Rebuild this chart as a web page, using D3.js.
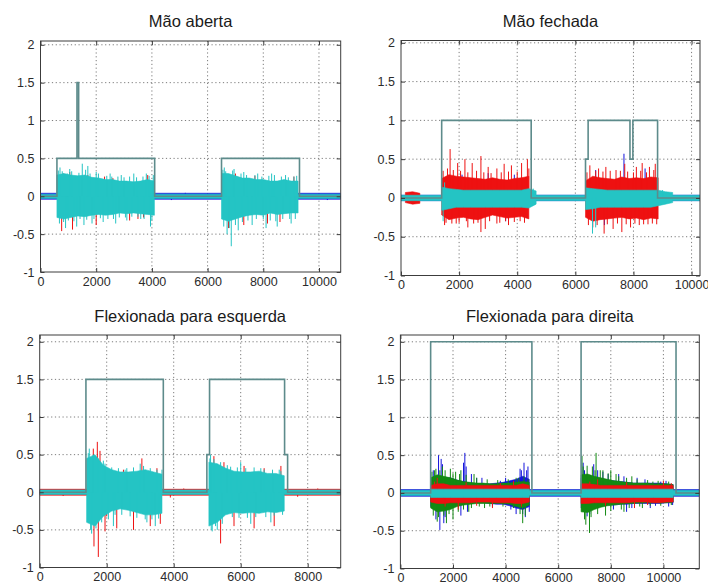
<!DOCTYPE html>
<html lang="pt">
<head>
<meta charset="UTF-8">
<title>Sinais EMG</title>
<script src="https://cdnjs.cloudflare.com/ajax/libs/d3/7.8.5/d3.min.js"></script>
<style>
  body { margin: 0; background: #fff; }
  svg { display: block; font-family: "Liberation Sans", Arial, sans-serif; }
</style>
</head>
<body>
<svg id="chart" width="708" height="586"></svg>
<script>
// ---------- values ----------
const titles = ["Mão aberta", "Mão fechada", "Flexionada para esquerda", "Flexionada para direita"];
const xMax = [10780, 10290, 8985, 11365];
const xTicks = [
  [0, 2000, 4000, 6000, 8000, 10000],
  [0, 2000, 4000, 6000, 8000, 10000],
  [0, 2000, 4000, 6000, 8000],
  [0, 2000, 4000, 6000, 8000, 10000]
];
const yTicks = [-1, -0.5, 0, 0.5, 1, 1.5, 2];
const yTop = [2.05, 2.03, 2.09, 2.09];
const STEP = 250; // sample spacing of the envelope readings

// trigger (step) line
const abertaStepX = [0, 590, 590, 1310, 1310, 1370, 1370, 4100, 4100, 6500, 6500, 9300, 9300, 10780];
const abertaStepY = [0, 0, 0.5, 0.5, 1.5, 1.5, 0.5, 0.5, 0, 0, 0.5, 0.5, 0, 0];
const fechadaStepX = [0, 1400, 1400, 4480, 4480, 6350, 6350, 6440, 6440, 7880, 7880, 7980, 7980, 8830, 8830, 10290];
const fechadaStepY = [0, 0, 1, 1, 0, 0, 0.5, 0.5, 1, 1, 0.5, 0.5, 1, 1, 0, 0];
const esquerdaStepX = [0, 1380, 1380, 3690, 3690, 4990, 4990, 5070, 5070, 7310, 7310, 7400, 7400, 8985];
const esquerdaStepY = [0, 0, 1.5, 1.5, 0, 0, 0.5, 0.5, 1.5, 1.5, 0.5, 0.5, 0, 0];
const direitaStepX = [0, 1150, 1150, 5000, 5000, 6870, 6870, 10480, 10480, 11365];
const direitaStepY = [0, 0, 2, 2, 0, 0, 2, 2, 0, 0];

// resting noise half-width per channel: blue, green, red, cyan
const abertaBase = [0.04, 0, 0, 0.028];
const fechadaBase = [0.035, 0, 0, 0.035];
const esquerdaBase = [0.03, 0, 0.04, 0.03];
const direitaBase = [0.045, 0, 0, 0.035];

// bursts: [start sample, upper envelope, lower envelope]
const abertaCyan = [
  [590, [0.28, 0.3, 0.28, 0.27, 0.28, 0.25, 0.24, 0.22, 0.22, 0.2, 0.2, 0.19, 0.2, 0.22, 0.2],
        [-0.28, -0.3, -0.28, -0.26, -0.27, -0.25, -0.24, -0.25, -0.24, -0.22, -0.23, -0.22, -0.23, -0.24, -0.25]],
  [6500, [0.3, 0.3, 0.27, 0.24, 0.24, 0.22, 0.22, 0.2, 0.2, 0.22, 0.2, 0.2],
         [-0.3, -0.33, -0.3, -0.27, -0.25, -0.24, -0.25, -0.22, -0.24, -0.23, -0.22, -0.22]]
];
const fechadaRed = [
  [150, [0.07, 0.08, 0.06], [-0.06, -0.08, -0.07]],
  [1400, [0.25, 0.3, 0.28, 0.27, 0.26, 0.25, 0.24, 0.26, 0.24, 0.23, 0.25, 0.26, 0.28],
         [-0.22, -0.28, -0.26, -0.25, -0.27, -0.28, -0.25, -0.22, -0.24, -0.26, -0.25, -0.24, -0.27]],
  [6350, [0.22, 0.28, 0.26, 0.25, 0.24, 0.27, 0.25, 0.26, 0.25, 0.27, 0.26],
         [-0.25, -0.3, -0.28, -0.27, -0.26, -0.25, -0.27, -0.26, -0.28, -0.26, -0.27]]
];
const fechadaCyan = [
  [1400, [0.14, 0.12, 0.11, 0.1, 0.1, 0.1, 0.1, 0.1, 0.1, 0.1, 0.1, 0.1, 0.12, 0.09],
         [-0.16, -0.14, -0.12, -0.12, -0.12, -0.12, -0.12, -0.12, -0.12, -0.12, -0.12, -0.12, -0.13, -0.08]],
  [6350, [0.13, 0.12, 0.11, 0.1, 0.1, 0.1, 0.1, 0.1, 0.1, 0.1, 0.1, 0.08, 0.07],
         [-0.15, -0.14, -0.12, -0.12, -0.12, -0.12, -0.12, -0.12, -0.12, -0.12, -0.1, -0.08, -0.06]]
];
const esquerdaCyan = [
  [1400, [0.45, 0.5, 0.36, 0.3, 0.27, 0.27, 0.28, 0.3, 0.27, 0.24],
         [-0.4, -0.45, -0.32, -0.25, -0.22, -0.24, -0.27, -0.3, -0.3, -0.28]],
  [5050, [0.4, 0.38, 0.32, 0.28, 0.27, 0.27, 0.28, 0.25, 0.25, 0.22],
         [-0.45, -0.4, -0.3, -0.27, -0.28, -0.27, -0.28, -0.26, -0.27, -0.25]]
];
const direitaBlue = [
  [1150, [0.18, 0.22, 0.2, 0.2, 0.17, 0.15, 0.13, 0.12, 0.12, 0.12, 0.13, 0.14, 0.16, 0.18, 0.22, 0.18],
         [-0.18, -0.24, -0.22, -0.2, -0.17, -0.15, -0.14, -0.13, -0.13, -0.14, -0.15, -0.15, -0.17, -0.2, -0.22, -0.18]],
  [6870, [0.2, 0.22, 0.2, 0.19, 0.17, 0.16, 0.15, 0.14, 0.13, 0.13, 0.13, 0.13, 0.13, 0.12, 0.11],
         [-0.2, -0.22, -0.2, -0.18, -0.16, -0.16, -0.15, -0.15, -0.14, -0.14, -0.14, -0.14, -0.14, -0.13, -0.13]]
];
const direitaGreen = [
  [1150, [0.2, 0.24, 0.22, 0.2, 0.17, 0.15, 0.14, 0.13, 0.13, 0.12, 0.12, 0.13, 0.13, 0.14, 0.15, 0.14],
         [-0.2, -0.25, -0.24, -0.22, -0.18, -0.16, -0.15, -0.14, -0.14, -0.14, -0.14, -0.14, -0.15, -0.18, -0.2, -0.16]],
  [6870, [0.24, 0.25, 0.22, 0.2, 0.18, 0.16, 0.15, 0.14, 0.13, 0.13, 0.13, 0.12, 0.12, 0.12, 0.11],
         [-0.25, -0.26, -0.22, -0.19, -0.17, -0.16, -0.15, -0.14, -0.14, -0.13, -0.13, -0.13, -0.13, -0.13, -0.12]]
];
const direitaRed = [
  [1150, [0.1, 0.12, 0.12, 0.1, 0.1, 0.1, 0.1, 0.1, 0.1, 0.1, 0.1, 0.1, 0.1, 0.1, 0.12, 0.1],
         [-0.12, -0.14, -0.14, -0.13, -0.13, -0.13, -0.13, -0.12, -0.12, -0.12, -0.13, -0.13, -0.13, -0.14, -0.14, -0.12]],
  [6870, [0.12, 0.12, 0.11, 0.1, 0.1, 0.1, 0.1, 0.1, 0.1, 0.1, 0.1, 0.1, 0.1, 0.1, 0.1],
         [-0.14, -0.14, -0.13, -0.13, -0.13, -0.13, -0.13, -0.13, -0.12, -0.12, -0.12, -0.13, -0.13, -0.12, -0.12]]
];
const direitaCyan = [
  [1150, [0.05, 0.05, 0.05, 0.05, 0.05, 0.05, 0.05, 0.05, 0.05, 0.05, 0.05, 0.05, 0.05, 0.05, 0.05, 0.05],
         [-0.06, -0.06, -0.06, -0.06, -0.06, -0.06, -0.06, -0.06, -0.06, -0.06, -0.06, -0.06, -0.06, -0.06, -0.06, -0.06]],
  [6870, [0.05, 0.05, 0.05, 0.05, 0.05, 0.05, 0.05, 0.05, 0.05, 0.05, 0.05, 0.05, 0.05, 0.05, 0.05],
         [-0.06, -0.06, -0.06, -0.06, -0.06, -0.06, -0.06, -0.06, -0.06, -0.06, -0.06, -0.06, -0.06, -0.06, -0.06]]
];

// single peaks that stick out of the bands: [sample, value]
const abertaBlueSpikes = [[4700, -0.05], [5200, 0.045], [8600, -0.06], [10300, -0.05]];
const abertaRedSpikes = [[760, -0.46], [820, 0.3], [1050, 0.32], [1150, -0.44], [1700, 0.28], [2000, -0.38], [2300, 0.26],
  [2600, 0.24], [3200, -0.32], [3500, -0.3], [3700, -0.28], [3850, 0.28], [6750, -0.42], [7000, 0.3], [7300, -0.38],
  [7700, 0.27], [8150, -0.36], [8600, -0.34], [9100, 0.26]];
const abertaCyanSpikes = [[700, 0.38], [900, -0.42], [1050, 0.36], [1300, -0.4], [1500, 0.43], [1560, -0.38], [1700, 0.4],
  [1850, -0.36], [2000, 0.32], [2250, -0.34], [2500, 0.3], [2700, -0.36], [2900, 0.28], [3100, -0.32], [3350, 0.3],
  [3600, -0.3], [3800, 0.3], [3950, -0.4], [4050, 0.28], [6600, 0.38], [6700, -0.5], [6850, -0.66], [6950, 0.36],
  [7100, -0.45], [7300, 0.32], [7600, -0.38], [7800, 0.3], [8100, -0.42], [8300, 0.3], [8500, -0.4], [8800, 0.28],
  [9000, -0.36], [9200, 0.27],
  [640, 0.34], [680, -0.36], [780, 0.33], [830, -0.34], [960, 0.3], [1000, -0.32], [1120, 0.33], [1200, -0.33],
  [1380, 0.31], [1420, -0.3], [1620, 0.35], [1660, -0.31], [1780, 0.3], [1920, -0.3], [2080, 0.3], [2150, -0.29],
  [2380, 0.27], [2420, -0.3], [2560, 0.26], [2620, -0.3], [2780, 0.26], [2830, -0.28], [3000, 0.25], [3050, -0.28],
  [3200, 0.26], [3280, -0.27], [3450, 0.25], [3500, -0.27], [3680, 0.26], [3720, -0.3], [3900, 0.27], [4000, -0.32],
  [6550, 0.35], [6580, -0.4], [6650, 0.33], [6780, -0.42], [6900, 0.34], [7000, -0.38], [7200, 0.3], [7250, -0.34],
  [7400, 0.28], [7450, -0.32], [7700, 0.28], [7750, -0.3], [7950, 0.26], [8000, -0.3], [8200, 0.27], [8250, -0.32],
  [8400, 0.28], [8450, -0.33], [8650, 0.26], [8700, -0.3], [8900, 0.25], [8950, -0.3], [9100, 0.26], [9150, -0.3]];
const fechadaBlueSpikes = [[2100, 0.3], [3000, 0.32], [3600, -0.3], [3900, 0.3], [6700, 0.36], [7000, -0.35], [7673, 0.57], [8400, 0.38]];
const fechadaRedSpikes = [[1500, -0.35], [1690, 0.63], [1900, -0.33], [1950, 0.45], [2200, 0.5], [2300, -0.38], [2450, 0.45],
  [2750, 0.54], [2750, -0.44], [2900, -0.4], [3000, 0.4], [3300, 0.38], [3300, -0.33], [3550, 0.44], [3700, -0.35],
  [3800, 0.42], [4100, -0.3], [4150, 0.45], [4350, 0.5], [6500, 0.42], [6600, -0.38], [6800, 0.38], [6990, -0.46],
  [7050, 0.4], [7300, -0.4], [7400, 0.36], [7600, -0.44], [7700, 0.44], [7900, -0.38], [8100, 0.4], [8200, -0.35],
  [8300, 0.45], [8500, -0.34], [8550, 0.4], [8750, 0.44], [8800, -0.34],
  [1450, 0.35], [1550, -0.32], [1600, 0.38], [1750, -0.33], [1800, 0.36], [2000, -0.32], [2050, 0.35], [2250, -0.3],
  [2300, 0.33], [2500, -0.33], [2600, 0.35], [2650, -0.32], [2850, 0.33], [3050, -0.3], [3100, 0.32], [3400, -0.32],
  [3450, 0.33], [3600, -0.3], [3700, 0.34], [3900, -0.31], [4000, 0.34], [4250, -0.32], [4400, 0.38], [6400, 0.33],
  [6450, -0.35], [6700, 0.35], [6750, -0.35], [6950, 0.34], [7100, -0.34], [7200, 0.35], [7450, -0.33], [7550, 0.35],
  [7750, -0.34], [7800, 0.34], [8000, 0.33], [8050, -0.33], [8250, 0.35], [8350, -0.34], [8450, 0.33], [8650, -0.33], [8700, 0.36]];
const fechadaCyanSpikes = [[1450, -0.3], [1500, 0.2], [4550, 0.12], [6590, -0.46], [6700, -0.38], [9000, 0.1]];
const esquerdaRedSpikes = [[700, -0.05], [1600, 0.58], [1620, -0.72], [1720, 0.67], [1750, -0.86], [1800, 0.55], [1950, -0.52],
  [2000, -0.32], [2300, -0.48], [2500, 0.3], [2800, -0.5], [3050, 0.45], [3300, -0.45], [3500, 0.32], [3600, -0.42],
  [3900, -0.07], [4300, 0.05], [5200, 0.48], [5400, -0.68], [5500, 0.4], [5800, -0.45], [6100, 0.35], [6400, -0.48],
  [6700, 0.32], [7000, -0.45], [7200, 0.35], [7700, -0.06], [8300, 0.05]];
const esquerdaCyanSpikes = [[1480, 0.58], [1550, -0.55], [1900, 0.42], [2200, -0.45], [2600, 0.32], [3000, 0.38], [3200, -0.4],
  [3450, -0.45], [3650, 0.3], [5100, 0.5], [5150, -0.52], [5300, -0.5], [5600, 0.36], [6000, 0.4], [6300, -0.42],
  [6600, 0.32], [6900, -0.4], [7150, 0.3],
  [1450, 0.52], [1520, -0.5], [1600, 0.5], [1680, -0.48], [1750, 0.45], [1850, -0.4], [1950, 0.38], [2050, -0.36],
  [2150, 0.33], [2250, -0.3], [2350, 0.32], [2450, -0.3], [2550, 0.3], [2700, -0.32], [2800, 0.33], [2900, -0.34],
  [3100, 0.35], [3150, -0.36], [3300, 0.32], [3350, -0.36], [3500, 0.3], [3550, -0.35],
  [5080, 0.45], [5120, -0.5], [5200, 0.44], [5250, -0.45], [5400, 0.4], [5450, -0.42], [5700, 0.34], [5750, -0.33],
  [5900, 0.33], [5950, -0.34], [6150, 0.32], [6200, -0.34], [6400, 0.33], [6450, -0.33], [6700, 0.3], [6750, -0.33],
  [6950, 0.3], [7000, -0.31], [7200, 0.28], [7250, -0.3]];
const direitaBlueSpikes = [[1450, 0.5], [1500, -0.49], [1550, 0.45], [1650, -0.4], [2300, -0.3], [2450, 0.53], [2500, 0.35],
  [2900, 0.2], [3800, 0.16], [4400, -0.28], [4600, 0.3], [4700, 0.4], [4750, -0.32], [4800, 0.3], [6950, 0.4],
  [7100, -0.31], [7350, 0.38], [7700, 0.28], [8300, 0.25], [8600, -0.25], [9000, 0.2], [9500, -0.2], [9900, 0.15], [10200, -0.18],
  [1250, 0.3], [1350, -0.35], [1600, 0.38], [1700, -0.32], [2400, 0.4], [2550, -0.25], [2700, 0.25], [3100, 0.2],
  [3500, -0.18], [4000, 0.2], [4200, -0.22], [4550, 0.32], [4650, -0.28], [4850, 0.35], [4900, -0.25], [7000, 0.3],
  [7200, -0.28], [7500, 0.3], [7900, 0.25], [8100, -0.22], [8500, 0.22], [8800, -0.2], [9300, 0.18], [9700, -0.17],
  [10100, 0.16], [10350, -0.16]];
const direitaGreenSpikes = [[1300, 0.3], [1400, -0.38], [1600, 0.35], [1750, -0.4], [1900, 0.32], [2000, -0.35], [2100, 0.28],
  [2300, 0.3], [2600, -0.25], [2800, 0.25], [3200, -0.2], [4500, 0.2], [4650, -0.4], [4850, 0.18], [6905, 0.49],
  [7050, -0.42], [7190, -0.53], [7300, 0.35], [7440, 0.53], [7600, 0.3], [7800, -0.3], [8000, 0.3], [8200, 0.25],
  [8500, -0.25], [8800, 0.22], [9200, -0.2], [9600, 0.15],
  [1200, 0.28], [1250, -0.3], [1350, 0.32], [1450, -0.32], [1500, 0.3], [1650, -0.3], [1700, 0.3], [1850, -0.28],
  [2000, 0.26], [2200, -0.25], [2250, 0.25], [2400, -0.22], [2500, 0.24], [2700, -0.2], [2900, 0.2], [3000, -0.18],
  [3300, 0.18], [3400, -0.18], [3700, 0.17], [3900, -0.18], [4100, 0.18], [4300, -0.2], [4400, 0.2], [4550, -0.28],
  [4700, 0.22], [4750, -0.3], [6950, 0.35], [7000, -0.35], [7100, 0.36], [7250, -0.32], [7400, 0.3], [7500, -0.28],
  [7700, 0.3], [7900, 0.26], [8000, -0.24], [8300, 0.22], [8400, -0.22], [8600, 0.2], [8700, -0.2], [9000, 0.18],
  [9100, -0.18], [9400, 0.17], [9500, -0.17], [9800, 0.16], [9900, -0.17], [10200, 0.15], [10300, -0.16]];
const direitaRedSpikes = [[1400, 0.2], [2200, -0.22], [3500, -0.2], [4300, 0.16], [7500, 0.18], [8900, -0.2], [10000, 0.16],
  [1300, 0.15], [1700, -0.18], [2500, 0.14], [2900, -0.17], [3800, 0.13], [4600, -0.18], [7200, 0.15], [7800, -0.17],
  [8600, 0.14], [9400, -0.16], [10300, 0.13]];

// ---------- per-panel tables built from the arrays above ----------
const channels = ["blue", "green", "red", "cyan"];
const panelData = [
  { stepX: abertaStepX, stepY: abertaStepY, base: abertaBase,
    bursts: [[], [], [], abertaCyan], spikes: [abertaBlueSpikes, [], abertaRedSpikes, abertaCyanSpikes] },
  { stepX: fechadaStepX, stepY: fechadaStepY, base: fechadaBase,
    bursts: [[], [], fechadaRed, fechadaCyan], spikes: [fechadaBlueSpikes, [], fechadaRedSpikes, fechadaCyanSpikes] },
  { stepX: esquerdaStepX, stepY: esquerdaStepY, base: esquerdaBase,
    bursts: [[], [], [], esquerdaCyan], spikes: [[], [], esquerdaRedSpikes, esquerdaCyanSpikes] },
  { stepX: direitaStepX, stepY: direitaStepY, base: direitaBase,
    bursts: [direitaBlue, direitaGreen, direitaRed, direitaCyan],
    spikes: [direitaBlueSpikes, direitaGreenSpikes, direitaRedSpikes, []] }
];

// ---------- layout ----------
const boxes = [
  { left: 40.5, right: 340.7, top: 41, bottom: 272, titleY: 27 },
  { left: 401, right: 700, top: 40.5, bottom: 275.5, titleY: 27 },
  { left: 39.7, right: 340.7, top: 335, bottom: 567.5, titleY: 322 },
  { left: 400.4, right: 699.3, top: 335, bottom: 568.5, titleY: 322 }
];
const colors = { blue: "#1414dc", green: "#138a13", red: "#ee1111", cyan: "#24c4c4" };
const stepColor = "#5d8b8b";
const axisColor = "#3c3c3c";
const gridColor = "#5a5a5a";

const svg = d3.select("#chart");

function bandPoints(base, bursts, xmax) {
  const pts = [[0, base, -base]];
  bursts.forEach(([start, hi, lo]) => {
    const end = start + (hi.length - 1) * STEP;
    pts.push([start, base, -base]);
    hi.forEach((h, i) => pts.push([start + i * STEP, h, lo[i]]));
    pts.push([end, base, -base]);
  });
  pts.push([xmax, base, -base]);
  return pts;
}

boxes.forEach((b, p) => {
  const d = panelData[p];
  const x = d3.scaleLinear().domain([0, xMax[p]]).range([b.left, b.right]);
  const y = d3.scaleLinear().domain([-1, yTop[p]]).range([b.bottom, b.top]);
  const g = svg.append("g");

  g.append("clipPath").attr("id", "clip" + p)
    .append("rect")
    .attr("x", b.left).attr("y", b.top)
    .attr("width", b.right - b.left).attr("height", b.bottom - b.top);

  // dotted grid
  const grid = g.append("g").attr("stroke", gridColor).attr("stroke-width", 0.8)
    .attr("stroke-dasharray", "1.2,2.6");
  grid.selectAll(".gx").data(xTicks[p].filter(v => v > 0)).join("line")
    .attr("x1", v => x(v)).attr("x2", v => x(v))
    .attr("y1", b.top).attr("y2", b.bottom);
  grid.selectAll(".gy").data(yTicks.filter(v => v > -1)).join("line")
    .attr("y1", v => y(v)).attr("y2", v => y(v))
    .attr("x1", b.left).attr("x2", b.right);

  const plot = g.append("g").attr("clip-path", `url(#clip${p})`);

  const area = d3.area()
    .x(v => x(v[0]))
    .y0(v => y(v[2]))
    .y1(v => y(v[1]));

  channels.forEach((c, k) => {
    const base = d.base[k];
    if (base > 0 || d.bursts[k].length) {
      plot.append("path")
        .datum(bandPoints(base, d.bursts[k], xMax[p]))
        .attr("d", area)
        .attr("fill", colors[c])
        .attr("stroke", colors[c])
        .attr("stroke-width", 0.6);
    }
    plot.append("g").selectAll("line").data(d.spikes[k]).join("line")
      .attr("x1", v => x(v[0])).attr("x2", v => x(v[0]))
      .attr("y1", y(0)).attr("y2", v => y(v[1]))
      .attr("stroke", colors[c])
      .attr("stroke-width", 1);
  });

  // trigger line
  plot.append("path")
    .datum(d.stepX.map((v, i) => [v, d.stepY[i]]))
    .attr("d", d3.line().x(v => x(v[0])).y(v => y(v[1])))
    .attr("fill", "none")
    .attr("stroke", stepColor)
    .attr("stroke-width", 1.6);

  // axes with inside ticks on all four sides
  const fmt = v => String(v);
  const axB = g.append("g").attr("transform", `translate(0,${b.bottom})`)
    .call(d3.axisBottom(x).tickValues(xTicks[p]).tickSize(-4).tickPadding(5).tickFormat(fmt));
  const axL = g.append("g").attr("transform", `translate(${b.left},0)`)
    .call(d3.axisLeft(y).tickValues(yTicks).tickSize(-4).tickPadding(6).tickFormat(fmt));
  const axT = g.append("g").attr("transform", `translate(0,${b.top})`)
    .call(d3.axisTop(x).tickValues(xTicks[p]).tickSize(-4).tickFormat(""));
  const axR = g.append("g").attr("transform", `translate(${b.right},0)`)
    .call(d3.axisRight(y).tickValues(yTicks).tickSize(-4).tickFormat(""));
  [axB, axL, axT, axR].forEach(a => {
    a.select(".domain").remove();
    a.selectAll("line").attr("stroke", axisColor);
    a.selectAll("text").attr("fill", "#2b2b2b").style("font-size", "12.5px")
      .style("font-family", "'Liberation Sans', Arial, sans-serif");
  });

  g.append("rect")
    .attr("x", b.left).attr("y", b.top)
    .attr("width", b.right - b.left).attr("height", b.bottom - b.top)
    .attr("fill", "none").attr("stroke", axisColor).attr("stroke-width", 1);

  g.append("text")
    .attr("x", (b.left + b.right) / 2).attr("y", b.titleY)
    .attr("text-anchor", "middle")
    .attr("fill", "#1a1a1a")
    .style("font-size", "16.5px")
    .text(titles[p]);
});
</script>
</body>
</html>
